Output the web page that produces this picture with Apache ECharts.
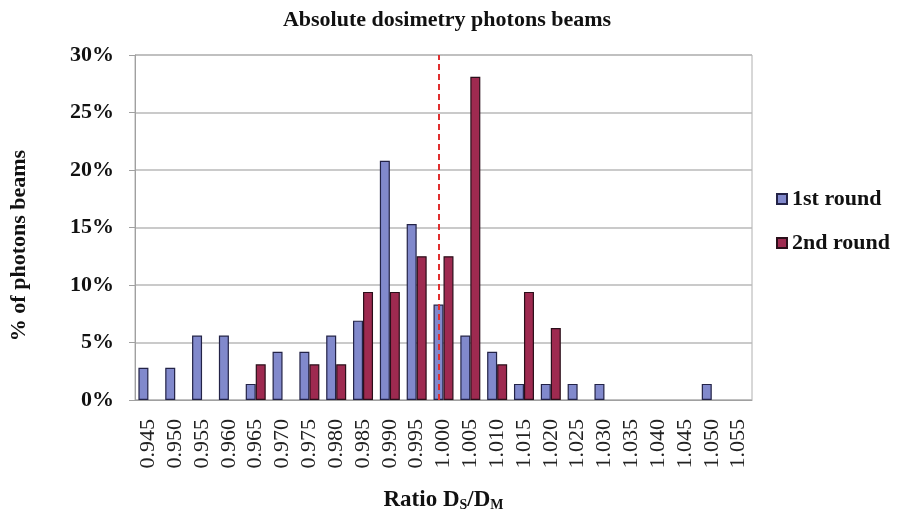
<!DOCTYPE html>
<html><head><meta charset="utf-8">
<script src="https://cdn.jsdelivr.net/npm/echarts@6/dist/echarts.min.js"></script>
<style>html,body{margin:0;padding:0;background:#fff}#c{width:901px;height:521px}</style>
</head><body><div id="c"></div>
<script>
const categories = ['0.945','0.950','0.955','0.960','0.965','0.970','0.975','0.980','0.985','0.990','0.995','1.000','1.005','1.010','1.015','1.020','1.025','1.030','1.035','1.040','1.045','1.050','1.055'];
const round1 = [2.8,2.8,5.6,5.6,1.4,4.2,4.2,5.6,6.9,20.8,15.3,8.3,5.6,4.2,1.4,1.4,1.4,1.4,null,null,null,1.4,null];
const round2 = [null,null,null,null,3.1,null,3.1,3.1,9.4,9.4,12.5,12.5,28.1,3.1,9.4,6.25,null,null,null,null,null,null,null];
const yTicks = [0,5,10,15,20,25,30];
const refValue = '1.000';

const serif = '"Liberation Serif","DejaVu Serif",serif';
const chart = echarts.init(document.getElementById('c'));
chart.setOption({
  animation: false,
  title: {text: 'Absolute dosimetry photons beams', left: 442, textAlign: 'center', top: 4,
    textStyle: {fontFamily: serif, fontWeight: 'bold', fontSize: 22, color: '#111'}},
  legend: {orient: 'vertical', left: 771, top: 183, itemGap: 22, itemWidth: 10, itemHeight: 10, icon: 'rect',
    textStyle: {fontFamily: serif, fontWeight: 'bold', fontSize: 22, color: '#111'},
    data: ['1st round','2nd round']},
  grid: {left: 134, top: 55, right: 149, bottom: 121, show: true, borderColor: '#b0b0b0', borderWidth: 1},
  xAxis: {type: 'category', data: categories,
    axisLine: {lineStyle: {color: '#a0a0a0'}}, axisTick: {show: false},
    axisLabel: {rotate: 90, fontFamily: serif, fontSize: 22, color: '#222', margin: 19, interval: 0},
    name: '{b|Ratio D}{s|S}{b|/D}{s|M}', nameLocation: 'middle', nameGap: 88,
    nameTextStyle: {rich: {b: {fontFamily: serif, fontWeight: 'bold', fontSize: 23, color: '#111'},
      s: {fontFamily: serif, fontWeight: 'bold', fontSize: 14, color: '#111', verticalAlign: 'bottom', padding: [10,0,0,0]}}}},
  yAxis: {type: 'value', min: 0, max: 30, interval: 5,
    axisLine: {show: true, lineStyle: {color: '#a0a0a0'}}, axisTick: {show: true, length: 6, lineStyle: {color: '#a0a0a0'}},
    splitLine: {lineStyle: {color: '#b8b8b8', width: 1.5}},
    axisLabel: {formatter: v => yTicks.includes(v) ? v + '%' : '', fontFamily: serif, fontWeight: 'bold', fontSize: 22, color: '#111', margin: 21},
    name: '% of photons beams', nameLocation: 'middle', nameGap: 105, nameRotate: 90,
    nameTextStyle: {fontFamily: serif, fontWeight: 'bold', fontSize: 22, color: '#111', padding: [0, 36, 0, 0]}},
  series: [
    {name: '1st round', type: 'bar', data: round1, barWidth: 10, barGap: '0%',
      itemStyle: {color: '#8189cc', borderColor: '#232347', borderWidth: 1.2},
      markLine: {silent: true, symbol: 'none', label: {show: false},
        lineStyle: {color: '#e03030', type: [6,4], width: 2}, data: [{xAxis: refValue}]}},
    {name: '2nd round', type: 'bar', data: round2, barWidth: 10,
      itemStyle: {color: '#9e2a50', borderColor: '#2a0f1a', borderWidth: 1.2}}
  ]
});
</script></body></html>
